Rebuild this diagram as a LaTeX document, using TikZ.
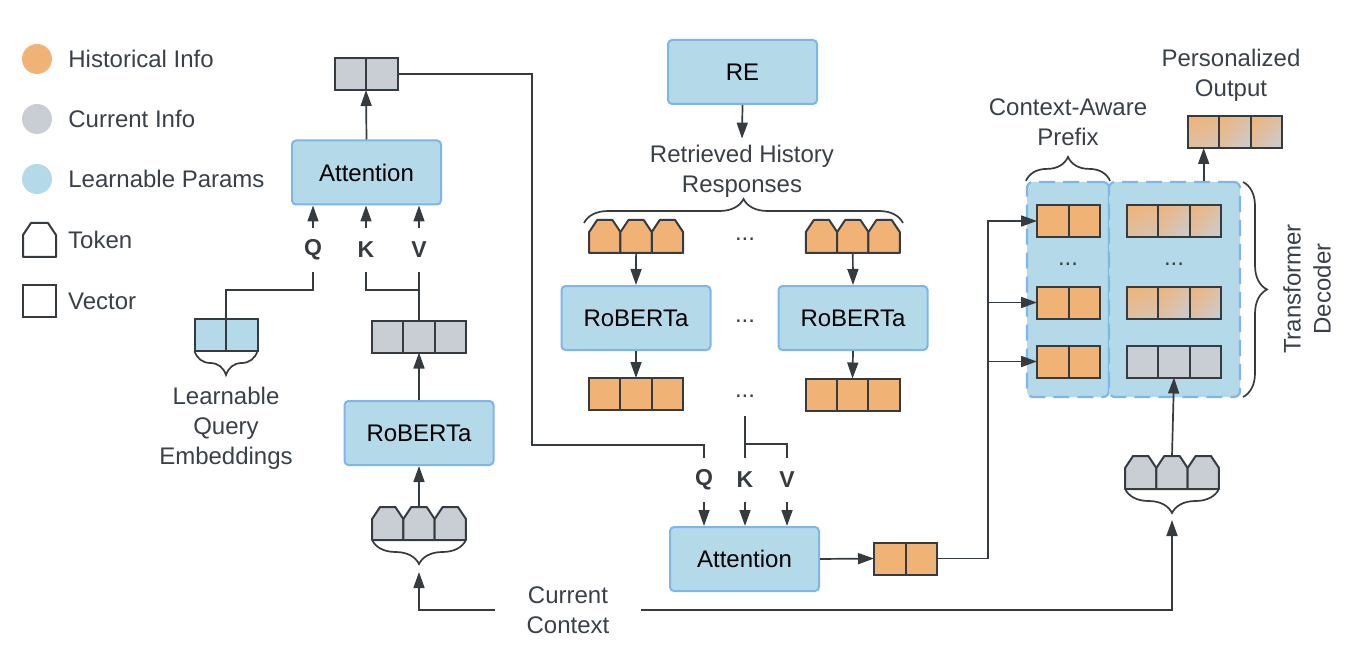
\documentclass[tikz,border=0pt]{standalone}
\usepackage{fontspec}
\setmainfont{Liberation Sans}
\usetikzlibrary{positioning, calc, arrows.meta, shadings, decorations.pathreplacing}

\definecolor{hist}{HTML}{F0B375}
\definecolor{curr}{HTML}{C9CDD4}
\definecolor{mixc}{HTML}{DDC0A4}
\definecolor{learn}{HTML}{B4D9E8}
\definecolor{rim}{HTML}{7EB6EA}
\definecolor{edge}{HTML}{363B40}
\definecolor{txt}{HTML}{3A4048}

\begin{document}
\begin{tikzpicture}[x=1pt, y=-1pt,
    every node/.style={font=\fontsize{24}{30}\selectfont, text=txt},
    box/.style={draw=rim, line width=2, fill=learn, rounded corners=4,
        minimum width=149, minimum height=64, text=black},
    vec/.style={draw=edge, line width=2, fill=#1, minimum height=32,
        inner sep=0, outer sep=0},
    two/.style={minimum width=63, path picture={
        \draw[edge, line width=2] (path picture bounding box.north) -- (path picture bounding box.south);}},
    three/.style={minimum width=94, path picture={
        \foreach \f in {0.3333,0.6667}
            \draw[edge, line width=2]
                ($(path picture bounding box.north west)!\f!(path picture bounding box.north east)$) --
                ($(path picture bounding box.south west)!\f!(path picture bounding box.south east)$);}},
    blend/.style={minimum width=94, path picture={
        \foreach \f/\g in {0/0.3333,0.3333/0.6667,0.6667/1}
            \shade[upper left=hist, lower right=curr, upper right=mixc, lower left=mixc]
                ($(path picture bounding box.north west)!\f!(path picture bounding box.north east)$) rectangle
                ($(path picture bounding box.south west)!\g!(path picture bounding box.south east)$);
        \foreach \f in {0.3333,0.6667}
            \draw[edge, line width=2]
                ($(path picture bounding box.north west)!\f!(path picture bounding box.north east)$) --
                ($(path picture bounding box.south west)!\f!(path picture bounding box.south east)$);}},
    token/.style={minimum width=31.3, minimum height=33, inner sep=0, outer sep=0,
        append after command={\pgfextra{
            \draw[edge, line width=2, fill=#1, line join=round]
                (\tikzlastnode.south west) -- ([yshift=-12]\tikzlastnode.north west)
                -- ([xshift=8]\tikzlastnode.north west) -- ([xshift=-8]\tikzlastnode.north east)
                -- ([yshift=-12]\tikzlastnode.north east) -- (\tikzlastnode.south east) -- cycle;}}},
    swatch/.style={circle, minimum size=30, inner sep=0},
    legend/.style={inner sep=0, anchor=west},
    qkv/.style={font=\fontsize{23}{28}\selectfont\bfseries, text=edge, minimum height=44, inner sep=0},
    dots/.style={minimum height=40, inner sep=0},
    dec/.style={draw=rim, fill=learn, line width=2.2, dash pattern=on 16 off 8,
        rounded corners=6, minimum height=215, inner sep=0},
    brace/.style={decorate, decoration={brace, amplitude=24}, draw=edge, line width=1.7},
    line/.style={draw=edge, line width=1.7},
    arr/.style={line, -{Triangle[length=16, width=11]}}
    ]
    \useasboundingbox (0,0) rectangle (1370,668);

    % legend
    \node[swatch, fill=hist] (lh) at (37,59) {};
    \node[swatch, fill=curr] (lc) at (37,119) {};
    \node[swatch, fill=learn] (ll) at (37,179) {};
    \node[token=white, minimum width=33, minimum height=34] (ltok) at (39.5,240) {};
    \node[vec=white, minimum width=33] (lvec) at (39.5,301) {};
    \node[legend, right=16 of lh] {Historical Info};
    \node[legend, right=16 of lc] {Current Info};
    \node[legend, right=16 of ll] {Learnable Params};
    \node[legend, right=12 of ltok] {Token};
    \node[legend, right=12 of lvec] {Vector};

    % current context encoder
    \node[box] (attL) at (366.5,172.5) {Attention};
    \node[vec=curr, two] (outL) at (366,74) {};
    \node[qkv] (lq) at (313,250) {Q};
    \node[qkv] (lk) at (366,250) {K};
    \node[qkv] (lv) at (419,250) {V};
    \node[vec=learn, two] (qv) at (226,335) {};
    \node[align=center] (qtxt) at (226,428) {Learnable\\Query\\Embeddings};
    \node[vec=curr, three] (midL) at (419,336.5) {};
    \node[box] (robL) at (419,433) {RoBERTa};
    \node[token=curr] (tL1) at (387.7,523.5) {};
    \node[token=curr, right=0pt of tL1] (tL2) {};
    \node[token=curr, right=0pt of tL2] (tL3) {};
    \draw[brace] (qv.south east) -- (qv.south west);
    \draw[brace] (tL3.south east) -- (tL1.south west);
    \coordinate (capL) at (419,572);
    \coordinate (qL) at (226,290);
    \coordinate (kvL) at (419,290);

    \draw[arr] (attL.north) -- (outL.south);
    \draw[arr] (lq.north) -- (lq.north |- attL.south);
    \draw[arr] (lk.north) -- (lk.north |- attL.south);
    \draw[arr] (lv.north) -- (lv.north |- attL.south);
    \draw[line] (qv.north) -- (qL) -| (lq.south);
    \draw[line] (midL.north) -- (lv.south);
    \draw[line] (kvL) -| (lk.south);
    \draw[arr] (robL.north) -- (midL.south);
    \draw[arr] (tL2.north) -- (robL.south);

    % retrieved history
    \node[box] (re) at (742.5,72) {RE};
    \node[align=center, inner sep=6] (ret) at (742,171) {Retrieved History\\Responses};
    \draw[arr] (re.south) -- (ret.north);
    \draw[brace] (584,223) -- (903,223);
    \node[token=hist] (tA1) at (604.8,236.5) {};
    \node[token=hist, right=0pt of tA1] (tA2) {};
    \node[token=hist, right=0pt of tA2] (tA3) {};
    \node[token=hist] (tB1) at (821.5,236.5) {};
    \node[token=hist, right=0pt of tB1] (tB2) {};
    \node[token=hist, right=0pt of tB2] (tB3) {};
    \node[dots] (dM1) at (745,239) {...};
    \node[box] (robA) at (636,318) {RoBERTa};
    \node[box] (robB) at (853,318) {RoBERTa};
    \node[dots] (dM2) at (745,321) {...};
    \node[vec=hist, three] (vA) at (636,394) {};
    \node[vec=hist, three] (vB) at (852.5,394.5) {};
    \node[dots] (dM3) at (745,396) {...};
    \draw[arr] (tA2.south) -- (robA.north);
    \draw[arr] (tB2.south) -- (robB.north);
    \draw[arr] (robA.south) -- (vA.north);
    \draw[arr] (robB.south) -- (vB.north);

    % history attention
    \node[qkv] (lq2) at (704,480) {Q};
    \node[qkv] (lk2) at (745,480) {K};
    \node[qkv] (lv2) at (787,480) {V};
    \node[box] (attM) at (744.5,559) {Attention};
    \node[vec=hist, two] (outM) at (905.5,558.5) {};
    \coordinate (qM) at (532,445);
    \coordinate (kvM) at (745,444);
    \draw[line] (outL.east) -| (qM) -| (lq2.north);
    \draw[line] (dM3.south) -- (lk2.north);
    \draw[line] (kvM) -| (lv2.north);
    \draw[arr] (lq2.south) -- (lq2.south |- attM.north);
    \draw[arr] (lk2.south) -- (lk2.south |- attM.north);
    \draw[arr] (lv2.south) -- (lv2.south |- attM.north);
    \draw[arr] (attM.east) -- (outM.west);

    % decoder
    \node[dec, minimum width=82] (decL) at (1068,289.5) {};
    \node[dec, minimum width=131] (decR) at (1174.5,289.5) {};
    \node[vec=hist, two] (pre1) at (1068.5,221) {};
    \node[vec=hist, two] (pre2) at (1068.5,302.5) {};
    \node[vec=hist, two] (pre3) at (1068.5,361.5) {};
    \node[vec=white, blend] (mix1) at (1174,221) {};
    \node[vec=white, blend] (mix2) at (1174,302.5) {};
    \node[vec=curr, three] (cur3) at (1174,361.5) {};
    \node[dots, minimum height=0] (dD1) at (1068,264) {...};
    \node[dots, minimum height=0] (dD2) at (1174,264) {...};
    \draw[brace] (decL.north west) -- (decL.north east);
    \node[align=center] (pretxt) at (1068,122) {Context-Aware\\Prefix};
    \draw[brace] (1243,182) -- (1243,397);
    \node[rotate=90, align=center] (tdtxt) at (1307,289) {Transformer\\Decoder};
    \node[vec=white, blend] (pout) at (1235,132) {};
    \node[align=center] (potxt) at (1231,75) {Personalized\\Output};
    \coordinate (pin) at ($(pout.south west)!1/6!(pout.south east)$);
    \draw[arr] (pin |- decR.north) -- (pin);
    \coordinate (split) at (988,221);
    \draw[arr] (outM.east) -| (split) -- (pre1.west);
    \draw[arr] (split |- pre2.west) -- (pre2.west);
    \draw[arr] (split |- pre3.west) -- (pre3.west);

    \node[token=curr] (tR1) at (1140.7,472.5) {};
    \node[token=curr, right=0pt of tR1] (tR2) {};
    \node[token=curr, right=0pt of tR2] (tR3) {};
    \draw[brace] (tR3.south east) -- (tR1.south west);
    \draw[arr] (tR2.north) -- (cur3.south);
    \coordinate (capR) at (1172,520);

    % current context
    \node[align=center, inner xsep=31, inner ysep=0] (ctx) at (568,610) {Current\\Context};
    \draw[arr] (ctx.west) -| (capL);
    \draw[arr] (ctx.east) -| (capR);
\end{tikzpicture}
\end{document}
